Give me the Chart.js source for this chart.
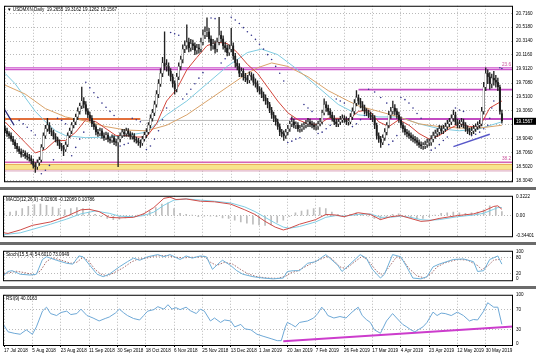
<!DOCTYPE html>
<html>
<head>
<meta charset="utf-8">
<script src="https://cdn.jsdelivr.net/npm/chart.js@4.4.1/dist/chart.umd.min.js"></script>
<style>
html, body { margin: 0; padding: 0; background: #fff; }
#wrap { position: relative; width: 536px; height: 358px; overflow: hidden; background: #fff; }
canvas { position: absolute; left: 0; }
.sep { position: absolute; left: 0; width: 536px; height: 3px; background: #6b6b6b; }
</style>
</head>
<body>
<div id="wrap">
  <canvas id="cMain" width="536" height="187" style="top:0px"></canvas>
  <div class="sep" style="top:187px"></div>
  <canvas id="cMacd" width="536" height="52" style="top:190px"></canvas>
  <div class="sep" style="top:242px"></div>
  <canvas id="cStoch" width="536" height="41" style="top:245px"></canvas>
  <div class="sep" style="top:286px"></div>
  <canvas id="cRsi" width="536" height="69" style="top:289px"></canvas>
</div>
<script>
// ---- data ----
const dateLabels = ['17 Jul 2018', '5 Aug 2018', '23 Aug 2018', '11 Sep 2018', '30 Sep 2018', '18 Oct 2018',
  '6 Nov 2018', '25 Nov 2018', '13 Dec 2018', '1 Jan 2019', '20 Jan 2019', '7 Feb 2019', '26 Feb 2019',
  '17 Mar 2019', '4 Apr 2019', '23 Apr 2019', '12 May 2019', '30 May 2019'];
const barsPerLabel = 14;

const open = [19.05,19.02,18.98,18.95,18.90,18.86,18.80,18.76,18.72,18.68,
18.70,18.66,18.64,18.62,18.58,18.52,18.50,18.56,18.60,18.78,
18.95,19.05,19.10,19.02,19.00,18.94,18.90,18.85,18.80,18.78,
18.75,18.82,18.95,19.02,19.10,19.15,19.22,19.30,19.38,19.45,
19.40,19.30,19.25,19.20,19.12,19.08,19.00,18.98,19.02,18.95,
18.92,18.96,18.90,18.88,18.92,18.86,18.85,18.90,18.95,19.00,
18.98,19.02,18.98,18.94,18.95,18.90,18.88,18.85,18.84,18.90,
18.96,19.00,19.10,19.20,19.28,19.40,19.55,19.70,19.85,20.00,
19.95,19.95,19.88,19.80,19.70,19.62,19.80,19.95,20.05,20.20,
20.25,20.30,20.22,20.28,20.25,20.18,20.22,20.20,20.30,20.40,
20.45,20.45,20.35,20.25,20.28,20.20,20.30,20.40,20.35,20.25,
20.22,20.15,20.20,20.25,20.10,20.00,19.95,19.85,19.88,19.80,
19.78,19.75,19.82,19.80,19.72,19.70,19.62,19.60,19.55,19.50,
19.45,19.40,19.32,19.25,19.20,19.15,19.08,19.00,18.98,18.95,
19.00,19.05,19.12,19.15,19.10,19.10,19.05,19.05,19.08,19.10,
19.12,19.15,19.12,19.10,19.08,19.08,19.12,19.15,19.28,19.40,
19.35,19.30,19.25,19.20,19.15,19.12,19.15,19.18,19.20,19.18,
19.15,19.15,19.22,19.30,19.42,19.50,19.45,19.40,19.35,19.30,
19.28,19.25,19.22,19.20,19.10,18.95,18.90,18.85,18.92,19.00,
19.10,19.25,19.30,19.35,19.30,19.25,19.18,19.10,19.05,19.00,
18.98,18.95,18.92,18.90,18.88,18.85,18.82,18.80,18.80,18.82,
18.85,18.85,18.90,18.95,18.98,19.00,19.05,19.02,19.05,19.08,
19.12,19.15,19.20,19.25,19.15,19.10,19.12,19.15,19.10,19.05,
19.02,19.00,19.02,19.05,19.08,19.10,19.12,19.30,19.65,19.85,
19.80,19.70,19.78,19.75,19.72,19.65,19.27];

const high = [19.09,19.06,19.01,18.99,18.94,18.89,18.84,18.79,18.76,18.74,
18.73,18.70,18.68,18.66,18.61,18.56,18.60,18.64,18.82,18.99,
19.10,19.20,19.14,19.06,19.03,18.98,18.93,18.89,18.84,18.81,
18.86,18.99,19.06,19.14,19.20,19.26,19.35,19.42,19.65,19.50,
19.44,19.34,19.29,19.24,19.16,19.11,19.04,19.06,19.05,18.99,
19.00,18.99,18.93,18.96,18.95,18.90,18.94,18.99,19.04,19.04,
19.06,19.05,19.01,18.99,18.98,18.93,18.91,18.89,18.94,19.00,
19.05,19.14,19.25,19.33,19.45,19.60,19.76,19.92,20.08,20.45,
20.05,20.00,19.92,19.84,19.74,19.85,20.00,20.10,20.26,20.32,
20.55,20.36,20.34,20.33,20.29,20.27,20.27,20.36,20.48,20.52,
20.65,20.50,20.39,20.34,20.32,20.36,20.66,20.46,20.39,20.30,
20.26,20.26,20.50,20.29,20.14,20.05,19.99,19.93,19.92,19.85,
19.82,19.87,19.86,19.84,19.77,19.74,19.66,19.64,19.58,19.54,
19.49,19.43,19.36,19.29,19.24,19.19,19.12,19.04,19.02,19.04,
19.10,19.16,19.22,19.19,19.15,19.14,19.10,19.12,19.14,19.17,
19.20,19.19,19.16,19.14,19.12,19.16,19.20,19.32,19.48,19.44,
19.39,19.34,19.29,19.24,19.19,19.19,19.23,19.25,19.24,19.22,
19.20,19.27,19.35,19.47,19.60,19.54,19.49,19.44,19.39,19.34,
19.32,19.29,19.27,19.24,19.13,18.99,18.94,18.96,19.05,19.14,
19.30,19.36,19.45,19.40,19.34,19.29,19.22,19.14,19.09,19.04,
19.02,18.99,18.96,18.94,18.92,18.89,18.86,18.85,18.87,18.90,
18.90,18.95,19.00,19.03,19.05,19.10,19.09,19.10,19.13,19.17,
19.20,19.25,19.32,19.29,19.19,19.17,19.20,19.19,19.14,19.09,
19.06,19.07,19.10,19.12,19.15,19.17,19.36,19.72,19.93,19.90,
19.86,19.84,19.88,19.82,19.78,19.68,19.32];

const low = [18.99,18.94,18.91,18.87,18.82,18.76,18.72,18.69,18.64,18.65,
18.62,18.60,18.58,18.54,18.48,18.42,18.46,18.52,18.57,18.75,
18.91,19.01,18.98,18.95,18.90,18.86,18.81,18.76,18.73,18.66,
18.72,18.79,18.92,18.98,19.06,19.11,19.18,19.26,19.34,19.35,
19.26,19.21,19.16,19.08,19.04,18.96,18.94,18.95,18.91,18.88,
18.89,18.86,18.84,18.85,18.82,18.80,18.50,18.86,18.92,18.94,
18.94,18.94,18.90,18.90,18.86,18.84,18.81,18.78,18.81,18.87,
18.92,18.97,19.06,19.16,19.24,19.36,19.50,19.66,19.80,19.90,
19.88,19.82,19.74,19.65,19.55,19.58,19.76,19.90,20.00,20.15,
20.20,20.16,20.17,20.19,20.12,20.13,20.14,20.16,20.26,20.35,
20.38,20.30,20.18,20.20,20.14,20.16,20.26,20.30,20.20,20.16,
20.10,20.11,20.16,20.05,19.94,19.90,19.80,19.80,19.75,19.73,
19.70,19.71,19.75,19.68,19.65,19.58,19.55,19.50,19.45,19.40,
19.35,19.28,19.20,19.15,19.10,19.04,18.95,18.93,18.88,18.91,
18.96,19.01,19.08,19.06,19.05,19.01,19.00,19.01,19.04,19.06,
19.08,19.08,19.06,19.04,19.03,19.04,19.09,19.12,19.25,19.30,
19.25,19.21,19.16,19.11,19.08,19.08,19.11,19.14,19.14,19.11,
19.10,19.12,19.18,19.26,19.38,19.40,19.35,19.31,19.26,19.24,
19.21,19.18,19.15,19.05,18.90,18.85,18.78,18.82,18.88,18.96,
19.06,19.20,19.26,19.25,19.20,19.14,19.06,19.00,18.96,18.93,
18.91,18.88,18.86,18.84,18.81,18.78,18.76,18.75,18.76,18.78,
18.80,18.81,18.86,18.91,18.94,18.96,18.98,18.98,19.01,19.04,
19.08,19.11,19.16,19.11,19.06,19.06,19.08,19.06,19.01,18.98,
18.96,18.96,18.98,19.01,19.04,19.06,19.09,19.26,19.60,19.70,
19.62,19.64,19.68,19.65,19.60,19.26,19.13];

const close = [19.02,18.98,18.95,18.90,18.86,18.80,18.76,18.72,18.68,18.70,
18.66,18.64,18.62,18.58,18.52,18.50,18.56,18.60,18.78,18.95,
19.05,19.10,19.02,19.00,18.94,18.90,18.85,18.80,18.78,18.75,
18.82,18.95,19.02,19.10,19.15,19.22,19.30,19.38,19.45,19.40,
19.30,19.25,19.20,19.12,19.08,19.00,18.98,19.02,18.95,18.92,
18.96,18.90,18.88,18.92,18.86,18.85,18.90,18.95,19.00,18.98,
19.02,18.98,18.94,18.95,18.90,18.88,18.85,18.84,18.90,18.96,
19.00,19.10,19.20,19.28,19.40,19.55,19.70,19.85,20.00,19.95,
19.95,19.88,19.80,19.70,19.62,19.80,19.95,20.05,20.20,20.25,
20.30,20.22,20.28,20.25,20.18,20.22,20.20,20.30,20.40,20.45,
20.45,20.35,20.25,20.28,20.20,20.30,20.40,20.35,20.25,20.22,
20.15,20.20,20.25,20.10,20.00,19.95,19.85,19.88,19.80,19.78,
19.75,19.82,19.80,19.72,19.70,19.62,19.60,19.55,19.50,19.45,
19.40,19.32,19.25,19.20,19.15,19.08,19.00,18.98,18.95,19.00,
19.05,19.12,19.15,19.10,19.10,19.05,19.05,19.08,19.10,19.12,
19.15,19.12,19.10,19.08,19.08,19.12,19.15,19.28,19.40,19.35,
19.30,19.25,19.20,19.15,19.12,19.15,19.18,19.20,19.18,19.15,
19.15,19.22,19.30,19.42,19.50,19.45,19.40,19.35,19.30,19.28,
19.25,19.22,19.20,19.10,18.95,18.90,18.85,18.92,19.00,19.10,
19.25,19.30,19.35,19.30,19.25,19.18,19.10,19.05,19.00,18.98,
18.95,18.92,18.90,18.88,18.85,18.82,18.80,18.80,18.82,18.85,
18.85,18.90,18.95,18.98,19.00,19.05,19.02,19.05,19.08,19.12,
19.15,19.20,19.25,19.15,19.10,19.12,19.15,19.10,19.05,19.02,
19.00,19.02,19.05,19.08,19.10,19.12,19.30,19.65,19.85,19.80,
19.70,19.78,19.75,19.72,19.65,19.30,19.16];

// moving averages, [bar, price]
const maRed = [[0,19.15],[5,19.00],[10,18.85],[15,18.70],[20,18.75],[25,18.88],[30,18.88],[35,19.00],[40,19.18],
  [45,19.15],[50,19.05],[55,18.95],[60,18.95],[65,18.93],[70,18.93],[75,19.12],[80,19.45],[85,19.62],[90,19.90],
  [95,20.08],[100,20.25],[105,20.30],[110,20.28],[115,20.15],[120,19.98],[125,19.85],[130,19.65],[135,19.45],
  [140,19.28],[145,19.18],[150,19.12],[155,19.11],[160,19.20],[165,19.20],[170,19.18],[175,19.30],[180,19.32],
  [185,19.15],[190,19.08],[195,19.18],[200,19.10],[205,18.98],[210,18.90],[215,18.95],[220,19.05],[225,19.12],
  [230,19.08],[235,19.08],[240,19.35],[246,19.45]];
const maCyan = [[0,19.85],[5,19.70],[10,19.50],[15,19.30],[20,19.15],[25,19.02],[30,18.95],[40,18.92],[50,18.93],
  [60,18.95],[70,19.00],[80,19.25],[90,19.45],[100,19.70],[110,19.95],[120,20.15],[127,20.20],[135,20.12],
  [145,19.90],[155,19.65],[165,19.40],[175,19.25],[185,19.22],[195,19.22],[205,19.12],[215,19.05],[225,19.02],
  [235,19.05],[246,19.15]];
const maTan = [[0,19.68],[10,19.55],[20,19.34],[30,19.22],[40,19.16],[50,19.08],[60,19.03],[70,19.02],[80,19.10],
  [90,19.25],[100,19.45],[110,19.65],[120,19.85],[125,19.93],[132,20.00],[140,19.95],[150,19.80],[160,19.60],
  [170,19.45],[175,19.38],[185,19.30],[195,19.22],[205,19.12],[215,19.08],[225,19.06],[235,19.06],[246,19.10]];

// parabolic SAR dots, [bar, price]
const sarDots = [[7,19.17],[9,19.12],[11,19.07],[13,19.02],[15,18.96],[18,18.40],[20,18.45],[22,18.52],[24,18.60],
  [26,19.20],[28,19.17],[30,19.12],[33,18.66],[35,18.78],[37,18.90],[39,19.00],[40,19.72],[42,19.64],[44,19.57],
  [46,19.50],[48,19.42],[50,19.36],[52,19.30],[54,19.24],[57,18.80],[59,18.82],[61,18.84],[63,19.20],[65,19.18],
  [67,19.15],[70,18.75],[72,18.80],[74,18.90],[76,19.02],[78,19.18],[80,19.35],[82,20.44],[84,20.42],[86,20.40],
  [88,19.48],[90,19.55],[92,19.62],[94,19.70],[96,19.78],[98,19.86],[102,20.65],[104,20.64],[107,20.00],[109,20.06],
  [112,20.66],[114,20.62],[116,20.57],[118,20.51],[120,20.45],[122,20.40],[124,20.34],[126,20.27],[128,20.20],
  [130,20.12],[132,20.05],[134,19.95],[136,19.85],[138,19.74],[140,18.85],[142,18.87],[144,18.90],[146,18.92],
  [148,19.40],[150,19.35],[152,19.30],[155,18.98],[157,19.00],[159,19.05],[161,19.10],[164,19.48],[166,19.45],
  [168,19.42],[172,19.08],[174,19.12],[176,19.18],[178,19.24],[180,19.62],[183,19.58],[186,19.50],[189,19.42],
  [190,18.82],[192,18.87],[194,18.95],[196,19.50],[198,19.47],[200,19.42],[202,19.35],[204,19.27],[206,19.20],
  [211,18.74],[213,18.77],[215,18.82],[217,18.88],[219,18.93],[223,19.35],[225,19.32],[227,19.30],[231,18.95],
  [233,18.97],[235,19.00],[237,19.05],[239,19.10],[240,19.20],[241,19.35],[242,19.45],[245,19.93],[246,19.92]];

// drawn objects on the price window
const fibLevels = [19.916, 18.567];
const fibNames = ['23.6', '38.2'];
const resistLevel = 19.615;
const pivotLevel = 19.19;
const bandTop = 18.535, bandBottom = 18.465, bandFloor = 18.44;
const supportTrend = [[222, 18.79], [240, 18.97]];
const oldTrend = [[-1.5, 19.39], [4.5, 19.10]];
const priceTicks = [20.716, 20.518, 20.314, 20.116, 19.912, 19.708, 19.510, 19.306, 19.108, 18.904, 18.706, 18.502, 18.304];
const priceLabels = ['20.7160', '20.5180', '20.3140', '20.1160', '19.9120', '19.7080', '19.5100', '19.3060', '',
  '18.9040', '18.7060', '18.5020', '18.3040'];
const lastPrice = 19.1567;
const mainTitle = '\u25BC USDMXN,Daily  19.2655 19.3162 19.1262 19.1567';

// MACD window
const macdMain = [[0,-0.30],[2,-0.31],[8,-0.25],[14,-0.17],[23,-0.11],[31,-0.01],[38,0.10],[42,0.11],[47,0.07],
  [52,-0.03],[57,-0.04],[64,-0.03],[69,0.03],[74,0.14],[79,0.30],[82,0.32],[85,0.28],[90,0.29],[97,0.25],
  [104,0.24],[112,0.20],[119,0.10],[124,0.02],[129,-0.10],[134,-0.20],[138,-0.25],[141,-0.22],[146,-0.15],
  [154,-0.07],[159,0.02],[164,0.01],[168,-0.02],[175,0.05],[181,0.02],[186,-0.07],[191,-0.02],[196,0.00],
  [201,-0.05],[206,-0.10],[210,-0.09],[215,-0.05],[224,0.00],[232,0.03],[237,0.08],[242,0.16],[244,0.17],[246,0.11]];
const macdSignal = [[0,-0.33],[8,-0.30],[14,-0.24],[23,-0.15],[31,-0.06],[38,0.03],[45,0.08],[52,0.04],[57,-0.01],
  [64,-0.02],[69,0.00],[74,0.06],[79,0.18],[84,0.27],[90,0.29],[97,0.27],[104,0.25],[112,0.22],[119,0.15],
  [124,0.07],[129,-0.03],[134,-0.13],[138,-0.20],[141,-0.22],[146,-0.19],[154,-0.11],[159,-0.03],[164,0.00],
  [168,-0.01],[175,0.02],[181,0.03],[186,-0.03],[191,-0.03],[196,-0.01],[201,-0.03],[206,-0.07],[210,-0.08],
  [215,-0.07],[224,-0.02],[232,0.01],[237,0.04],[242,0.11],[244,0.14],[246,0.14]];
const macdHist = [0.05,0.06,0.08,0.12,0.16,0.19,0.20,0.18,0.15,0.12,0.10,0.12,0.14,0.12,0.06,0.02,-0.02,-0.05,
  -0.07,-0.06,-0.04,-0.02,0.01,0.04,0.08,0.14,0.20,0.22,0.12,0.04,0.02,0.01,-0.02,-0.01,-0.01,-0.02,-0.04,-0.05,
  -0.08,-0.11,-0.13,-0.15,-0.16,-0.17,-0.16,-0.12,-0.08,-0.02,0.05,0.08,0.10,0.12,0.14,0.12,0.06,0.02,-0.01,0.02,
  0.05,0.03,-0.01,-0.05,-0.07,-0.03,0.02,0.03,-0.01,-0.04,-0.06,-0.05,-0.02,0.01,0.04,0.05,0.06,0.05,0.04,0.05,
  0.06,0.10,0.17,0.15,0.07];
const macdHistStep = 3;
const macdTicks = [0.3222, 0, -0.3440];
const macdLabels = ['0.3222', '0.00', '-0.34401'];
const macdTitle = 'MACD(12,26,9) -0.02606 -0.12089 0.10786';

// Stochastic window
const stochMain = [[0,15],[2,28],[4,31],[8,18],[13,15],[16,18],[19,72],[21,82],[26,69],[31,58],[34,55],[37,85],
  [39,82],[43,45],[46,18],[49,9],[52,18],[57,45],[61,64],[64,77],[67,69],[71,82],[76,90],[79,82],[82,90],[87,72],
  [90,85],[93,77],[97,85],[100,82],[103,36],[107,64],[108,69],[112,50],[115,31],[118,18],[123,9],[128,4],[133,1],
  [138,4],[140,28],[143,31],[146,31],[150,58],[154,64],[159,90],[161,77],[165,50],[167,28],[171,55],[176,90],
  [179,77],[182,36],[186,4],[188,18],[192,90],[196,82],[199,45],[202,4],[206,1],[209,9],[212,45],[215,55],
  [222,72],[227,74],[232,64],[234,28],[237,31],[240,72],[244,85],[246,55]];
const stochSignal = [[0,20],[3,24],[6,29],[10,24],[15,16],[18,30],[21,65],[24,78],[28,70],[33,58],[36,62],[39,80],
  [42,65],[45,35],[48,18],[51,12],[54,22],[59,42],[63,63],[66,73],[70,76],[74,84],[78,86],[81,86],[85,80],[89,78],
  [92,80],[95,80],[99,84],[102,62],[105,50],[109,62],[113,55],[117,35],[121,18],[125,9],[130,4],[135,3],[139,10],
  [142,24],[145,30],[148,42],[152,58],[156,72],[160,84],[163,68],[166,45],[169,38],[173,62],[177,84],[180,68],
  [184,30],[187,14],[190,42],[194,82],[197,72],[200,40],[204,12],[208,4],[211,20],[214,45],[218,60],[224,72],
  [229,70],[234,50],[236,35],[239,48],[242,70],[246,73]];
const stochTicks = [100, 80, 20, 0];
const stochLabels = ['100', '80', '20', '0'];
const stochTitle = 'Stoch(15,5,4) 54.6010 73.0949';

// RSI window
const rsi = [[0,38],[2,25],[5,22],[8,20],[11,29],[14,20],[16,35],[19,67],[21,75],[23,62],[26,58],[28,64],[31,67],
  [33,60],[36,62],[38,71],[41,58],[44,53],[47,47],[50,52],[52,55],[55,63],[57,71],[59,64],[61,58],[64,52],[67,49],
  [69,58],[71,67],[74,70],[76,76],[79,71],[81,80],[83,71],[85,74],[87,70],[90,75],[92,68],[95,62],[97,71],[99,67],
  [102,47],[104,53],[107,44],[109,49],[112,47],[114,35],[117,40],[119,31],[122,29],[125,20],[128,16],[132,11],
  [135,7],[137,7],[139,35],[140,44],[142,40],[144,35],[146,44],[150,47],[153,53],[155,62],[157,75],[159,65],
  [160,58],[163,53],[166,56],[169,53],[172,65],[175,75],[177,58],[179,50],[181,44],[183,29],[186,22],[189,47],
  [192,62],[194,53],[197,40],[199,35],[201,29],[203,25],[205,30],[207,35],[209,44],[212,65],[214,58],[216,63],
  [218,62],[221,58],[224,65],[227,58],[230,47],[232,50],[234,49],[237,67],[239,84],[242,75],[244,75],[246,40]];
const rsiTrend = [[138, 6], [251.5, 36]];
const rsiTicks = [100, 70, 30, 0];
const rsiLabels = ['100', '70', '30', '0'];
const rsiTitle = 'RSI(9) 40.0163';

// ---- chart helpers ----
const X_MIN = -0.5, X_MAX = 251.5;
const FONT = 'Liberation Sans, Arial, sans-serif';
const GRID = '#b9b9b9';
const pts = arr => arr.map(([x, y]) => ({x, y}));
const hline = (y, x0 = X_MIN, x1 = X_MAX) => [{x: x0, y}, {x: x1, y}];

function xAxis(showLabels) {
  return {
    type: 'linear', min: X_MIN, max: X_MAX, offset: false,
    afterBuildTicks: s => { s.ticks = dateLabels.map((_, k) => ({value: k * barsPerLabel})); },
    afterFit: s => { s.height = showLabels ? 12 : 0; },
    ticks: {
      display: showLabels, autoSkip: false, maxRotation: 0, align: 'start', padding: 1, color: '#000',
      font: {family: FONT, size: 4.6},
      callback: (v, i) => dateLabels[i]
    },
    grid: {color: GRID, offset: false, drawTicks: showLabels, tickLength: 2, tickColor: '#000'},
    border: {display: false, dash: [1, 2]}
  };
}

function yAxis(min, max, tickVals, labels, gridVals) {
  return {
    position: 'right', min, max, beginAtZero: false,
    afterBuildTicks: s => { s.ticks = tickVals.map(v => ({value: v})); },
    afterFit: s => { s.width = 23; },
    ticks: {
      autoSkip: false, padding: 3, crossAlign: 'near', color: '#000',
      font: {family: FONT, size: 4.6},
      callback: (v, i) => labels[i]
    },
    grid: {
      drawTicks: false,
      color: ctx => (ctx.tick && gridVals.includes(ctx.tick.value)) ? GRID : 'rgba(0,0,0,0)'
    },
    border: {display: false, dash: [1, 2]}
  };
}

// frame + window title
function framePlugin(title) {
  return {
    id: 'frame',
    afterDraw(chart) {
      const {ctx, chartArea: a} = chart;
      ctx.save();
      ctx.strokeStyle = '#000';
      ctx.lineWidth = 1;
      ctx.strokeRect(a.left + 0.5, a.top + 0.5, a.right - a.left - 1, a.bottom - a.top);
      ctx.fillStyle = '#000';
      ctx.font = '4.6px ' + FONT;
      ctx.textBaseline = 'top';
      ctx.fillText(title, a.left + 3, a.top + 2);
      ctx.restore();
    }
  };
}

const line = (label, data, color, width, extra) => Object.assign({
  type: 'line', label, data, borderColor: color, borderWidth: width, pointRadius: 0, tension: 0, fill: false
}, extra || {});

function baseOptions(xShow, yCfg, padBottom) {
  return {
    responsive: false, animation: false, events: [],
    layout: {padding: {left: 3, right: 0, top: 0, bottom: padBottom}},
    plugins: {legend: {display: false}, tooltip: {enabled: false}},
    scales: {x: xAxis(xShow), y: yCfg}
  };
}

// ---- price window ----
const candleIdx = close.map((_, i) => i);
const mainOpts = baseOptions(false,
  yAxis(18.291, 20.826, priceTicks, priceLabels, priceTicks), 1);
mainOpts.layout.padding.top = 3;

new Chart(document.getElementById('cMain'), {
  type: 'line',
  data: {
    datasets: [
      line('bandTop', hline(bandTop), '#e9a54a', 1, {fill: '+1', backgroundColor: '#f7e58c', order: 20}),
      line('bandBottom', hline(bandBottom), '#e9a54a', 1, {order: 20}),
      line('bandFloor', hline(bandFloor), '#d9a0b8', 1, {order: 20}),
      line('fib382', hline(fibLevels[1]), '#d564b6', 1.5, {order: 19}),
      line('fib236a', hline(fibLevels[0] + 0.013), '#cc55cc', 1.2, {order: 19}),
      line('fib236b', hline(fibLevels[0] - 0.013), '#cc55cc', 1.2, {order: 19}),
      line('resist', hline(resistLevel, 175, X_MAX), '#c44fc4', 1.8, {order: 19}),
      line('pivotOld', hline(pivotLevel, X_MIN, 67), '#e2703c', 2, {order: 19}),
      line('pivotGray', hline(pivotLevel - 0.02, 67, 141), '#b8b8b8', 1, {order: 19}),
      line('pivot', hline(pivotLevel, 141, X_MAX), '#c24cc2', 2.2, {order: 19}),
      line('supportTrend', pts(supportTrend), '#5656c8', 1.4, {order: 18}),
      line('oldTrend', pts(oldTrend), '#2a2a7a', 1.4, {order: 18}),
      line('maTan', pts(maTan), '#d9a36a', 1, {order: 5}),
      line('maCyan', pts(maCyan), '#7fcbe0', 1, {order: 5}),
      line('maRed', pts(maRed), '#d2453a', 1, {order: 4}),
      line('sar', pts(sarDots), '#34348c', 0, {showLine: false, pointRadius: 0.8, pointBorderWidth: 0,
        pointBackgroundColor: '#34348c', order: 3}),
      {
        type: 'bar', label: 'wick', order: 2, grouped: false,
        data: candleIdx.map(i => ({x: i, y: [low[i], high[i]]})),
        backgroundColor: '#222', borderWidth: 0, barThickness: 0.7
      },
      {
        type: 'bar', label: 'body', order: 1, grouped: false, minBarLength: 1,
        data: candleIdx.map(i => ({x: i, y: [open[i], close[i]]})),
        backgroundColor: c => close[c.dataIndex] >= open[c.dataIndex] ? '#fff' : '#1a1a1a',
        borderColor: '#333', borderWidth: 0.4, borderSkipped: false, barThickness: 1.6
      }
    ]
  },
  options: mainOpts,
  plugins: [framePlugin(mainTitle), {
    id: 'priceMarks',
    afterDraw(chart) {
      const {ctx, chartArea: a} = chart;
      const y = chart.scales.y;
      ctx.save();
      ctx.font = '4.6px ' + FONT;
      ctx.textAlign = 'right';
      ctx.textBaseline = 'bottom';
      fibLevels.forEach((lv, k) => {
        ctx.fillStyle = '#c8509a';
        ctx.fillText(fibNames[k], a.right - 2, y.getPixelForValue(lv) - 1.5);
      });
      const py = y.getPixelForValue(lastPrice);
      ctx.fillStyle = '#000';
      ctx.fillRect(a.right + 1, py - 3.5, 22, 7);
      ctx.fillStyle = '#fff';
      ctx.textAlign = 'left';
      ctx.textBaseline = 'middle';
      ctx.fillText(lastPrice.toFixed(4), a.right + 3, py + 0.3);
      ctx.restore();
    }
  }]
});

// ---- MACD window ----
new Chart(document.getElementById('cMacd'), {
  type: 'line',
  data: {
    datasets: [
      {
        type: 'bar', label: 'hist', order: 5, grouped: false,
        data: macdHist.map((v, k) => ({x: k * macdHistStep, y: [0, v]})),
        backgroundColor: '#bdbdbd', borderWidth: 0, barThickness: 1
      },
      line('signal', pts(macdSignal), '#80cde4', 1, {order: 2}),
      line('main', pts(macdMain), '#cf4c48', 1, {order: 1})
    ]
  },
  options: baseOptions(false, yAxis(-0.359, 0.345, macdTicks, macdLabels, [0]), 1),
  plugins: [framePlugin(macdTitle)]
});

// ---- Stochastic window ----
new Chart(document.getElementById('cStoch'), {
  type: 'line',
  data: {
    datasets: [
      line('signal', pts(stochSignal), '#9c5c5c', 0.9, {borderDash: [1.5, 1.5], order: 2}),
      line('main', pts(stochMain), '#6fb0d8', 1, {order: 1})
    ]
  },
  options: baseOptions(false, yAxis(-4.05, 104, stochTicks, stochLabels, [80, 20]), 1),
  plugins: [framePlugin(stochTitle)]
});

// ---- RSI window ----
new Chart(document.getElementById('cRsi'), {
  type: 'line',
  data: {
    datasets: [
      line('trend', pts(rsiTrend), '#cc3ccc', 2, {order: 2}),
      line('rsi', pts(rsi), '#6ea8d6', 1, {order: 1})
    ]
  },
  options: baseOptions(true, yAxis(-1.8, 100.2, rsiTicks, rsiLabels, [70, 30]), 1),
  plugins: [framePlugin(rsiTitle)]
});
</script>
</body>
</html>
